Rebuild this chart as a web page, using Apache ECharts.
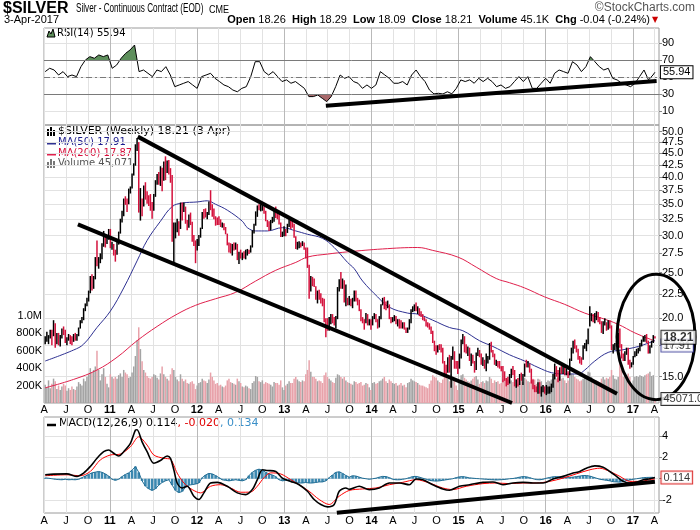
<!DOCTYPE html>
<html>
<head>
<meta charset="utf-8">
<title>$SILVER Weekly</title>
<script src="https://cdn.jsdelivr.net/npm/echarts@6.0.0/dist/echarts.min.js"></script>
<style>
html,body{margin:0;padding:0;background:#fff;}
#chart{width:700px;height:530px;}
</style>
</head>
<body>
<div id="chart"></div>
<script>
// ================= DATA =================
const firstWeek = '2010-04-05';           // first weekly bar (Monday)
const closes = [
 // 2010
 18.05,18.15,18.25,18.65,18.35,19.45,17.95,18.35,17.95,18.15,18.75,18.60,17.95,18.05,18.15,18.05,17.85,18.25,18.05,18.35,19.05,19.75,19.85,20.85,21.35,21.90,22.75,24.45,23.45,24.45,26.85,26.45,26.55,26.85,28.75,29.35,29.05,29.70,30.90,
 // 2011
 28.45,28.55,27.75,27.45,28.95,30.45,32.45,33.05,35.85,35.45,35.15,37.45,38.05,40.55,42.55,46.05,47.05,35.35,35.55,34.85,38.05,36.45,36.05,35.75,34.95,34.05,36.65,39.05,40.45,39.25,41.85,39.55,42.85,41.05,43.05,41.55,39.75,29.95,30.45,31.05,31.95,31.05,35.05,34.05,34.45,32.05,31.45,32.75,32.05,29.45,29.15,28.15,
 // 2012
 28.85,29.95,31.05,33.55,33.35,33.05,33.35,35.35,34.55,34.15,32.65,32.45,32.25,31.95,31.75,31.85,31.15,30.35,28.85,28.45,27.95,28.55,28.45,28.65,26.85,27.55,26.95,27.35,27.05,27.85,27.95,27.75,28.45,30.65,31.65,33.65,34.65,34.45,34.55,34.65,33.95,32.35,31.85,30.95,32.15,32.45,34.05,33.05,32.95,31.95,30.05,30.25,30.85,
 // 2013
 30.55,31.65,32.25,31.85,31.75,29.85,28.45,28.55,28.95,28.75,28.85,28.25,27.35,25.85,23.05,24.25,23.95,23.55,22.05,22.45,22.25,21.65,21.45,19.85,19.65,19.05,19.75,19.95,19.85,19.65,20.05,23.15,23.85,23.45,23.95,21.75,21.85,21.65,21.75,21.55,21.85,22.55,21.85,21.65,20.85,19.85,19.75,19.65,20.35,19.45,19.65,19.45,
 // 2014
 20.05,20.25,19.75,19.15,20.05,21.25,21.75,21.25,21.05,21.35,20.05,19.75,19.95,20.15,19.55,19.65,19.45,19.15,19.35,19.05,18.75,19.05,19.75,20.75,21.05,21.15,20.75,20.85,20.35,20.25,20.05,19.95,19.35,19.25,19.15,18.75,17.85,17.15,16.95,17.35,17.25,17.15,16.15,15.65,15.45,16.35,15.55,16.35,17.05,16.05,15.75,15.65,
 // 2015
 16.65,17.85,18.15,17.15,16.95,17.25,16.35,16.55,16.25,15.65,16.75,17.05,16.75,16.15,16.35,15.75,16.25,16.45,17.55,17.05,16.75,16.05,16.15,16.05,15.75,15.55,15.25,14.85,14.75,14.65,15.05,15.45,15.35,14.55,14.65,14.55,15.05,14.95,15.05,15.95,15.85,15.95,15.55,14.65,14.25,14.15,14.05,14.55,13.85,13.95,14.15,13.85,
 // 2016
 13.95,14.05,14.15,14.25,15.05,15.75,15.35,14.75,15.55,15.45,15.95,15.25,15.35,15.25,16.25,16.95,17.75,17.35,17.05,16.45,16.35,16.25,17.35,17.45,17.75,18.75,19.85,20.35,19.85,20.35,20.45,19.75,19.65,18.75,19.45,19.65,18.95,19.75,19.25,17.35,17.45,17.55,17.65,18.45,17.45,16.55,16.45,16.75,16.95,16.05,15.85,16.05,
 // 2017
 16.55,16.75,17.05,17.15,17.55,17.85,18.05,18.15,17.85,16.85,17.45,17.75,18.25,18.21
];
const highs = [
 18.3,18.7,18.4,18.9,18.9,19.8,19.5,18.6,18.6,18.4,19.0,19.2,18.9,18.2,18.5,18.4,18.3,18.5,18.6,18.5,19.1,19.8,20.1,21.0,21.5,22.1,22.9,24.6,24.8,24.6,27.0,29.3,27.0,27.5,28.9,30.7,29.8,29.9,31.0,
 31.0,29.1,28.8,28.0,29.3,30.6,32.6,33.9,36.0,36.4,36.0,37.8,38.2,40.7,42.8,47.0,48.5,47.5,37.9,36.0,38.4,39.0,37.3,36.6,36.8,35.4,36.8,39.4,40.6,41.0,42.2,41.9,43.2,44.3,43.4,43.5,41.8,40.4,32.0,32.0,32.6,32.2,35.3,35.3,35.3,34.6,32.4,33.3,33.6,32.1,30.1,29.3,
 29.5,30.1,31.2,33.7,34.2,34.3,33.7,35.5,37.5,35.0,34.3,33.0,32.8,33.0,32.5,32.0,31.9,31.3,30.3,29.0,28.9,28.8,29.0,29.0,28.8,27.7,28.0,27.6,27.8,28.0,28.1,28.0,28.6,30.8,31.8,33.8,34.8,35.0,35.0,35.4,34.6,33.9,32.4,32.2,32.4,32.9,34.2,34.6,33.6,33.5,32.0,30.6,31.4,
 31.0,31.8,32.5,32.4,32.3,31.8,29.9,29.1,29.2,29.0,29.2,29.0,28.3,28.3,26.0,24.6,24.5,24.3,23.4,22.9,23.0,22.6,22.1,22.0,20.0,20.0,20.1,20.4,20.4,20.1,20.2,23.3,24.2,25.1,24.3,24.1,23.6,22.1,22.3,22.0,22.1,22.9,22.9,22.1,21.9,20.9,20.1,19.9,20.5,20.4,19.9,19.9,
 20.2,20.5,20.4,19.9,20.2,21.4,22.1,22.2,21.7,21.8,21.4,20.1,20.1,20.3,20.2,19.9,19.9,19.8,19.6,19.6,19.1,19.1,19.9,20.9,21.2,21.4,21.6,21.2,21.0,20.7,20.4,20.1,19.9,19.6,19.5,19.2,18.8,17.9,17.5,17.5,17.6,17.6,17.3,16.2,15.9,16.5,16.7,16.6,17.4,17.0,16.2,16.2,
 16.8,18.0,18.5,18.3,17.6,17.4,17.3,16.8,16.7,16.2,16.9,17.3,17.1,16.8,16.5,16.3,16.8,16.6,17.7,17.8,17.1,16.8,16.3,16.2,16.2,15.8,15.8,15.4,14.9,15.0,15.2,15.6,15.8,15.5,14.8,14.9,15.2,15.3,15.2,16.0,16.3,16.2,16.0,15.6,14.8,14.4,14.3,14.6,14.6,14.3,14.4,14.3,
 14.4,14.3,14.3,14.5,15.2,16.0,15.8,15.5,15.7,15.8,16.0,15.9,15.6,15.4,16.4,17.3,17.9,18.0,17.5,17.2,16.6,16.5,17.5,17.7,18.0,19.0,21.2,20.5,20.4,20.5,20.7,20.6,20.1,19.7,19.7,20.0,19.6,19.8,19.8,19.3,17.6,17.7,17.9,18.6,19.0,17.6,16.8,17.0,17.3,17.3,16.3,16.1,
 16.6,17.0,17.2,17.3,17.7,18.0,18.3,18.4,18.5,17.9,17.5,17.9,18.4,18.29
];
const lows = [
 17.6,17.8,17.6,18.1,17.5,18.3,17.3,17.6,17.5,17.4,18.1,18.4,17.7,17.5,17.9,17.6,17.5,17.8,17.9,17.9,18.3,19.0,19.5,19.8,20.7,21.2,21.7,22.6,22.9,23.1,24.2,25.8,25.5,26.2,26.7,28.4,28.3,28.8,29.4,
 28.2,28.0,27.2,26.4,27.3,28.7,30.3,32.0,33.0,34.9,33.7,35.0,36.9,37.8,40.3,42.3,45.5,33.6,32.3,33.0,34.6,35.8,35.1,34.7,33.9,32.6,33.9,36.3,38.5,38.5,38.3,37.3,39.3,39.4,40.8,40.5,38.9,29.1,26.1,29.6,30.5,30.0,31.0,32.3,33.7,31.8,30.8,31.2,31.6,29.1,28.5,26.2,
 27.9,28.5,29.7,31.0,32.6,32.8,32.5,33.2,34.0,32.9,32.5,31.5,31.6,31.6,31.3,31.2,30.8,30.2,28.6,27.6,27.5,27.2,27.9,28.0,26.6,26.1,26.8,26.6,26.8,26.7,27.2,27.4,27.6,28.3,30.3,31.5,32.9,34.0,33.8,33.9,33.4,32.2,31.3,30.7,30.8,31.9,32.1,32.7,32.5,31.7,29.8,29.8,29.9,
 29.9,30.4,31.3,31.0,31.2,29.7,28.1,28.0,28.2,28.3,28.5,28.0,26.8,25.6,22.0,22.8,23.4,23.3,21.9,21.5,21.9,21.5,21.2,19.6,18.2,18.8,18.8,19.4,19.5,19.3,19.0,19.9,22.8,23.1,23.1,21.6,21.2,21.3,21.3,21.2,21.0,21.7,21.7,21.3,20.7,19.7,19.5,18.9,19.5,19.3,19.3,18.9,
 19.3,19.9,19.6,19.0,19.1,19.9,21.3,20.9,20.8,21.0,19.9,19.5,19.6,19.7,19.4,19.2,19.0,19.0,19.0,18.9,18.6,18.6,18.9,19.5,20.6,20.7,20.7,20.4,20.2,20.1,19.8,19.7,19.2,19.1,18.9,18.5,17.7,17.0,16.7,16.9,17.1,16.9,16.0,15.1,15.1,15.3,15.3,14.2,16.3,15.6,15.6,15.2,
 15.6,16.4,17.6,16.9,16.8,16.6,16.2,15.8,16.0,15.3,15.5,16.6,16.5,15.9,15.8,15.6,15.4,16.0,16.3,16.9,16.5,15.9,15.8,15.7,15.6,15.4,14.6,14.7,14.3,14.4,14.5,14.9,15.1,14.3,14.2,14.3,14.4,14.7,14.4,15.0,15.7,15.7,15.3,14.5,14.1,13.9,13.9,13.8,13.8,13.6,13.9,13.8,
 13.7,13.8,13.8,13.9,14.2,14.8,15.0,14.6,14.7,15.2,15.2,15.1,15.1,14.9,15.1,16.2,16.8,17.2,16.9,16.3,16.0,15.9,16.3,17.2,17.0,17.6,19.2,19.7,19.6,19.5,19.8,19.6,19.4,18.6,18.5,19.3,18.8,18.9,19.0,17.1,16.8,17.1,17.4,17.6,17.3,16.4,16.2,16.2,16.7,15.9,15.6,15.7,
 15.9,16.5,16.6,16.8,17.0,17.4,17.8,17.8,17.7,16.8,16.8,17.3,17.7,18.09
];
const volumesK = [
 210,180,260,170,220,280,250,160,200,150,190,220,200,140,170,150,190,160,150,190,240,220,200,280,250,300,330,400,350,380,420,600,380,260,330,400,300,220,180,
 330,300,280,300,280,320,340,300,380,350,330,290,300,350,420,540,720,870,620,480,380,350,310,290,280,300,330,320,290,270,340,420,330,300,280,260,330,400,380,300,270,250,330,280,250,270,230,220,240,250,220,160,
 200,230,240,280,260,250,230,270,350,300,260,220,230,200,210,190,180,200,260,280,240,230,220,210,280,250,230,190,180,200,190,170,160,230,250,310,300,250,240,260,220,240,230,220,210,190,240,230,230,210,260,180,150,
 200,220,250,230,230,280,300,270,250,240,260,250,330,380,490,360,300,300,280,250,260,250,230,320,350,300,280,260,240,230,290,330,320,300,280,300,260,240,230,220,210,250,240,220,230,240,200,210,230,220,180,150,
 230,240,220,230,250,260,280,300,250,230,270,250,230,220,230,200,210,230,200,210,180,230,240,280,260,250,240,230,210,200,200,190,180,170,220,260,320,300,290,260,240,230,270,350,300,280,250,330,300,280,200,150,
 260,320,330,290,270,250,240,260,280,300,310,270,220,240,250,230,260,250,300,280,230,260,240,250,220,230,270,280,290,270,250,260,240,300,270,220,250,260,240,290,270,250,240,260,280,270,220,280,270,250,200,150,
 240,260,250,270,280,320,280,290,300,280,290,260,230,260,320,340,330,300,280,270,250,260,280,300,310,360,350,300,270,260,260,250,240,280,300,270,290,280,300,380,320,280,270,300,490,380,300,310,320,340,300,200,
 260,300,310,300,320,310,300,320,330,340,360,310,320,45.071
];
// moving averages as [week index, value]
const ma50 = [[0,16.2],[17,17.1],[23,17.6],[31,19.1],[39,20.7],[47,23.2],[55,26.5],[61,29.3],[69,32.2],[76,34.6],[82,35.2],[91,35.4],[97,35.6],[102,35.0],[109,34.0],[118,32.2],[121,31.2],[126,30.7],[133,30.7],[142,31.2],[150,30.7],[157,30.2],[166,29.6],[173,28.3],[181,26.3],[185,25.5],[190,24.0],[199,22.2],[206,21.1],[217,20.5],[223,20.4],[232,19.8],[242,19.1],[250,18.8],[260,17.9],[268,17.4],[278,16.7],[287,16.2],[295,15.7],[303,15.3],[311,15.2],[319,15.2],[323,15.5],[329,16.2],[337,16.9],[345,17.1],[355,17.4],[365,17.91]];
const ma200 = [[0,14.2],[17,14.8],[31,15.5],[43,16.5],[55,17.9],[67,19.2],[79,20.4],[90,21.3],[102,22.0],[114,22.7],[126,24.0],[138,25.3],[150,26.3],[157,27.0],[169,27.4],[181,27.7],[202,28.1],[223,28.3],[232,27.9],[247,27.0],[258,25.7],[270,24.3],[278,23.8],[287,23.2],[299,22.2],[311,21.4],[323,20.5],[333,20.0],[343,19.4],[353,18.6],[365,17.87]];
// RSI(14) sampled every rsiStepWeeks weeks, last value at the last bar
const rsiStepWeeks = 2.675;
const rsiValues = [
 56.7,60.6,58.6,52.7,56.7,50.8,52.7,50.8,62.5,70.4,
 74.3,72.4,76.3,74.3,76.3,60.6,64.5,72.4,78.2,82.2,
 88.0,56.7,58.6,54.7,50.8,58.6,56.7,62.5,52.7,39.0,
 41.0,43.0,45.0,41.0,37.0,50.8,52.7,54.7,48.8,45.0,
 41.0,39.0,35.0,33.0,37.0,39.0,50.8,68.4,68.4,56.7,
 52.7,56.7,50.8,45.0,47.0,43.0,45.0,41.0,37.0,27.3,
 27.3,29.2,25.3,21.4,27.3,39.0,52.7,48.8,50.8,45.0,
 43.0,37.0,41.0,37.0,41.0,56.7,52.7,48.8,43.0,43.0,
 45.0,41.0,52.7,58.6,50.8,45.0,35.0,30.5,31.2,30.4,
 33.0,30.6,37.0,46.9,45.0,47.0,43.0,48.8,45.0,48.8,
 45.0,39.0,41.0,37.0,39.0,45.0,50.8,45.0,50.8,37.0,
 37.0,43.0,48.8,43.0,54.7,58.6,56.7,54.7,68.4,64.5,
 56.7,62.5,74.3,68.4,62.5,58.6,60.6,48.8,46.9,43.0,
 41.0,39.0,43.0,50.8,58.6,46.9,52.7
];
const rsiLast = 55.94;
// MACD(12,26,9) line and signal as [week index, value]
const macdLine = [[0,0.37],[5,0.43],[13,0.46],[19,0.22],[23,0.53],[27,1.15],[31,1.92],[35,2.54],[38,2.70],[41,2.39],[44,2.14],[47,2.54],[51,3.32],[54,4.56],[55,4.6],[58,3.47],[61,2.54],[65,1.46],[69,1.71],[73,2.14],[75,1.92],[77,0.84],[79,-0.40],[82,-0.87],[85,-0.71],[89,-1.64],[92,-1.95],[95,-1.33],[99,-0.40],[103,-0.34],[109,-0.71],[115,-1.33],[120,-1.49],[124,-1.02],[127,-0.09],[130,0.84],[133,0.78],[138,0.68],[142,0.06],[147,-0.25],[152,-0.56],[157,-1.18],[161,-1.95],[165,-2.42],[169,-2.64],[173,-2.42],[176,-1.18],[180,-0.87],[182,-1.0],[188,-0.71],[194,-1.02],[200,-0.87],[206,-0.40],[212,-0.40],[218,-0.56],[222,-0.03],[226,-0.09],[232,-0.56],[238,-0.96],[242,-1.08],[248,-0.71],[254,-0.56],[262,-0.34],[268,-0.31],[274,-0.56],[280,-0.40],[286,-0.34],[292,-0.40],[298,-0.40],[304,-0.03],[310,0.22],[316,0.53],[320,0.68],[324,0.99],[329,1.21],[334,1.08],[338,0.68],[342,0.22],[346,-0.25],[350,-0.40],[354,-0.34],[358,-0.09],[362,0.0],[365,0.114]];
const signalLine = [[0,0.28],[13,0.37],[21,0.28],[27,0.68],[33,1.77],[39,2.23],[45,2.32],[51,3.0],[56,3.94],[61,3.16],[65,2.23],[71,1.92],[75,1.82],[79,0.53],[83,-0.40],[88,-1.02],[93,-1.33],[99,-0.71],[105,-0.56],[111,-0.87],[117,-1.27],[123,-1.25],[127,-0.7],[131,0.1],[135,0.55],[141,0.45],[147,-0.09],[152,-0.56],[158,-1.18],[164,-1.95],[170,-2.42],[176,-1.64],[182,-1.1],[190,-0.96],[198,-0.87],[206,-0.56],[214,-0.34],[222,-0.09],[230,-0.40],[238,-0.87],[244,-1.02],[252,-0.71],[262,-0.46],[270,-0.40],[278,-0.46],[286,-0.40],[294,-0.40],[302,-0.25],[310,0.06],[318,0.46],[326,0.84],[332,0.99],[338,0.68],[344,0.22],[350,-0.25],[356,-0.25],[362,-0.09],[365,-0.02]];
// MACD histogram every histStepWeeks weeks
const histStepWeeks = 2;
const histValues = [
 0.08,0.05,0,-0.05,-0.08,-0.1,-0.05,-0.1,-0.08,-0.1,-0.05,
 0.1,0.25,0.4,0.55,0.62,0.68,0.6,0.45,0.25,
 -0.05,-0.15,-0.05,
 0.2,0.4,0.55,0.8,1.15,0.6,
 -0.2,-0.7,-0.95,-1.1,-0.95,-0.6,-0.35,-0.2,-0.1,
 -0.6,-1.1,-1.3,-1.2,-0.8,-0.6,-0.55,-0.5,-0.4,
 0.1,0.35,0.5,0.45,0.3,0.1,
 -0.1,-0.15,-0.2,-0.15,-0.1,-0.15,-0.2,-0.1,
 0.3,0.6,0.8,0.9,0.8,0.6,0.45,0.35,0.2,
 -0.1,-0.2,-0.15,-0.2,-0.3,-0.35,-0.4,-0.4,-0.35,-0.4,-0.4,-0.35,-0.3,-0.3,-0.2,
 0.1,0.35,0.6,0.65,0.5,0.3,0.15,
 0.28,0.25,0.15,0.05,0,-0.05,0,0.05,0.15,0.22,
 0.2,0.1,-0.05,-0.1,-0.1,-0.05,0,0.1,0.2,0.22,
 0.15,0.05,-0.05,-0.15,-0.2,-0.22,-0.2,-0.15,-0.1,-0.05,
 0,0.1,0.18,0.2,0.15,0.08,0.05,0.02,0,-0.03,
 -0.05,-0.08,-0.1,-0.12,-0.1,-0.08,-0.05,0,0.02,0.08,
 0.15,0.2,0.18,0.1,0,-0.08,-0.1,-0.05,0.05,0.12,
 0.18,0.2,0.18,0.15,0.15,0.12,0.15,0.2,0.25,0.3,
 0.3,0.25,0.15,0.05,-0.05,-0.1,-0.15,-0.2,-0.28,-0.3,
 -0.32,-0.28,-0.2,-0.12,-0.05,0,0.05,0.1,0.12,0.13,
 0.134
];
const macdLast = [0.114, -0.020, 0.134];
// axis ticks
const tickLabels = ['A','J','O','11','A','J','O','12','A','J','O','13','A','J','O','14','A','J','O','15','A','J','O','16','A','J','O','17','A'];
const priceTicks = [15,17.5,20,22.5,25,27.5,30,32.5,35,37.5,40,42.5,45,47.5,50];
const volumeTicks = [200,400,600,800,1000];
const rsiTicks = [10,30,50,70,90];
const macdTicks = [-2,0,2,4];
const macdLabelTicks = [-2,2,4];
// header text
const header = {date:'3-Apr-2017', open:'18.26', high:'18.29', low:'18.09', close:'18.21', volume:'45.1K', chg:'-0.04 (-0.24%)', barDate:'3 Apr'};
// hand-drawn annotations (data coordinates)
const priceTrendlines = [
  [['2011-04-28', 48.8], ['2016-10-26', 13.8]],
  [['2010-08-20', 31.7], ['2015-08-13', 13.18]]
];
const rsiTrendline = [['2013-06-24', 16.6], ['2017-04-10', 45.6]];
const macdTrendline = [['2013-08-09', -3.2], ['2017-04-03', -0.28]];
const ellipseBox = {from:'2016-10-26', to:'2017-09-18', top:24.8, bottom:13.4};

// ================= BUILD =================
const DAY = 86400000;
const T0 = Date.parse(firstWeek + 'T00:00:00Z');
const wt = w => T0 + w * 7 * DAY;
const dt = s => Date.parse(s + 'T00:00:00Z');
const xMin = Date.UTC(2010, 2, 31), xMax = Date.UTC(2017, 3, 20);
const quarterTs = tickLabels.map((_, k) => Date.UTC(2010, 3 + 3 * k, 1));
const yearTs = quarterTs.filter(t => new Date(t).getUTCMonth() === 0);
const N = closes.length;
const up = closes.map((c, i) => i === 0 || c >= closes[i - 1]);
// price labels split over two overlaid axes so close labels are never auto-hidden
const priceLabelsA = priceTicks.filter((_, i) => i % 2 === 0);
const priceLabelsB = priceTicks.filter((_, i) => i % 2 === 1);

const FONT = '"Liberation Sans", Arial, sans-serif';
const LEG = '"DejaVu Sans", Verdana, sans-serif';
const RED = '#d4113c', BLUE = '#2e3192', GRID = '#e2e2e2', YEAR = '#b9b9b9';

const priceBars = closes.map((c, i) => [wt(i), lows[i], highs[i], up[i] ? 1 : 0]);
const volData = volumesK.map((v, i) => ({value: [wt(i), v], itemStyle: {color: up[i] ? '#a4a4a4' : '#e8a2aa'}}));
const pairs = arr => arr.map(p => [wt(p[0]), p[1]]);
const rsiData = rsiValues.map((v, k) => [wt(k * rsiStepWeeks), v]).concat([[wt(N - 1), rsiLast]]);
const histData = histValues.map((v, k) => [wt(k * histStepWeeks), v]);
const dpair = arr => arr.map(p => [dt(p[0]), p[1]]);

function quarterLabel(v) {
  let k = 0, best = Infinity;
  quarterTs.forEach((t, j) => { const d = Math.abs(t - v); if (d < best) { best = d; k = j; } });
  const s = tickLabels[k];
  return /\d/.test(s) ? '{y|' + s + '}' : s;
}
function xAxesFor(g, showLabels, margin) {
  return [{
    type: 'value', gridIndex: g, min: xMin, max: xMax, position: 'bottom',
    axisLine: {show: false}, axisTick: {show: false, customValues: quarterTs},
    axisLabel: {show: showLabels, customValues: quarterTs, margin: margin, formatter: quarterLabel,
      showMinLabel: true, showMaxLabel: true, hideOverlap: false, interval: 0,
      color: '#000', fontSize: 11, fontFamily: FONT,
      rich: {y: {fontWeight: 'bold', fontSize: 11, fontFamily: FONT, color: '#000'}}},
    splitLine: {show: true, lineStyle: {color: GRID, width: 1}}
  }, {
    type: 'value', gridIndex: g, min: xMin, max: xMax, position: 'top',
    axisLine: {show: false}, axisTick: {show: false, customValues: yearTs},
    axisLabel: {show: false, customValues: yearTs},
    splitLine: {show: true, lineStyle: {color: YEAR, width: 1}}
  }];
}
const axisLbl = {color: '#000', fontSize: 11, fontFamily: FONT, margin: 3,
  showMinLabel: true, showMaxLabel: true, hideOverlap: false, interval: 0};
const tagLabel = (text, border, extra) => Object.assign({
  show: true, position: 'right', distance: 6, formatter: text, color: '#000',
  fontSize: 11, fontFamily: FONT, backgroundColor: '#fff', borderColor: border, borderWidth: 1,
  padding: [1, 2, 0, 2]
}, extra || {});
const tagPoint = (xi, yi, point, label, z) => ({
  type: 'scatter', xAxisIndex: xi, yAxisIndex: yi, data: [point], symbolSize: 1,
  itemStyle: {color: 'rgba(0,0,0,0)'}, label: label, z: z, silent: true, clip: false
});
const lineSeries = (xi, yi, data, color, width, z, extra) => Object.assign({
  type: 'line', xAxisIndex: xi, yAxisIndex: yi, data: data, symbol: 'none', silent: true,
  lineStyle: {color: color, width: width}, itemStyle: {color: color}, z: z
}, extra || {});

const fmtThousands = n => String(Math.round(n)).replace(/\B(?=(\d{3})+(?!\d))/g, ',');
const lastVol = volumesK[N - 1];
const PMIN = 13.18, PMAX = 51.67;

const option = {
  animation: false,
  backgroundColor: '#fff',
  grid: [
    {left: 44, right: 41, top: 28, height: 97, show: true, borderColor: '#9a9a9a', borderWidth: 1, outerBoundsMode: 'none'},
    {left: 44, right: 41, top: 125, height: 278, show: true, borderColor: '#9a9a9a', borderWidth: 1, outerBoundsMode: 'none'},
    {left: 44, right: 41, top: 417, height: 96, show: true, borderColor: '#9a9a9a', borderWidth: 1, outerBoundsMode: 'none'}
  ],
  xAxis: [].concat(xAxesFor(0, false, 0), xAxesFor(1, true, 1), xAxesFor(2, true, 2)),
  yAxis: [
    {type: 'value', gridIndex: 0, position: 'right', min: -6.1, max: 108,
     axisLine: {show: false}, axisTick: {show: true, length: 3, lineStyle: {color: '#888'}, customValues: rsiTicks},
     axisLabel: Object.assign({customValues: rsiTicks}, axisLbl),
     splitLine: {show: true, lineStyle: {color: GRID}}},
    {type: 'log', gridIndex: 1, position: 'right', min: PMIN, max: PMAX,
     axisLine: {show: false}, axisTick: {show: true, length: 3, lineStyle: {color: '#888'}, customValues: priceTicks},
     axisLabel: Object.assign({customValues: priceLabelsA, formatter: v => Number(v).toFixed(1)}, axisLbl),
     splitLine: {show: true, lineStyle: {color: GRID}}},
    {type: 'value', gridIndex: 1, position: 'left', min: 0, max: 3195,
     axisLine: {show: false}, axisTick: {show: false, customValues: volumeTicks},
     axisLabel: Object.assign({}, axisLbl, {customValues: volumeTicks, margin: 2,
       formatter: v => v >= 1000 ? (v / 1000).toFixed(1) + 'M' : v + 'K'}),
     splitLine: {show: false}},
    {type: 'value', gridIndex: 2, position: 'right', min: -3.22, max: 5.8,
     axisLine: {show: false}, axisTick: {show: true, length: 3, lineStyle: {color: '#888'}, customValues: macdTicks},
     axisLabel: Object.assign({customValues: macdLabelTicks}, axisLbl),
     splitLine: {show: true, lineStyle: {color: GRID}}},
    {type: 'log', gridIndex: 1, position: 'right', min: PMIN, max: PMAX,
     axisLine: {show: false}, axisTick: {show: false, customValues: priceLabelsB},
     axisLabel: Object.assign({customValues: priceLabelsB, formatter: v => Number(v).toFixed(1)}, axisLbl),
     splitLine: {show: false}}
  ],
  visualMap: [{
    type: 'piecewise', show: false, seriesIndex: 0, dimension: 1,
    pieces: [{gt: 70, color: '#5e8f5c'}, {gte: 30, lte: 70, color: 'rgba(255,255,255,0)'}, {lt: 30, color: '#a96a6c'}]
  }],
  series: [
    // 0 RSI fill (>70 green, <30 red)
    {type: 'line', xAxisIndex: 0, yAxisIndex: 0, data: rsiData, symbol: 'none', silent: true,
     lineStyle: {width: 0, opacity: 0}, areaStyle: {origin: 50, opacity: 1}, z: 1},
    // 1 RSI line
    lineSeries(0, 0, rsiData, '#000', 1, 3, {
      endLabel: tagLabel(() => rsiLast.toFixed(2), '#000', {distance: 6}),
      markLine: {silent: true, symbol: 'none', label: {show: false}, animation: false,
        data: [
          {yAxis: 30, lineStyle: {color: '#7a7a7a', width: 1, type: 'solid'}},
          {yAxis: 70, lineStyle: {color: '#7a7a7a', width: 1, type: 'solid'}},
          {yAxis: 50, lineStyle: {color: '#7a7a7a', width: 1, type: [6, 3, 2, 3]}}
        ]}
    }),
    // 2 RSI trendline
    lineSeries(0, 0, dpair(rsiTrendline), '#000', 4, 5),
    // 3 volume
    {type: 'bar', xAxisIndex: 2, yAxisIndex: 2, data: volData, barWidth: 1.5, silent: true, z: 1},
    // 4 MA200, 5 MA50
    lineSeries(2, 1, pairs(ma200), '#e0204c', 1, 3, {smooth: 0.4}),
    lineSeries(2, 1, pairs(ma50), BLUE, 1, 3, {smooth: 0.4}),
    // 6 price bars (high-low, coloured by close vs previous close)
    {type: 'custom', xAxisIndex: 2, yAxisIndex: 1, data: priceBars, silent: true, z: 4,
     encode: {x: 0, y: [1, 2]},
     renderItem: (params, api) => {
       const x = api.value(0);
       const p1 = api.coord([x, api.value(1)]), p2 = api.coord([x, api.value(2)]);
       return {type: 'line', shape: {x1: p1[0], y1: p1[1], x2: p2[0], y2: p2[1]},
               style: {stroke: api.value(3) ? '#000' : RED, lineWidth: 1.5}};
     }},
    // 7,8 channel trendlines
    lineSeries(2, 1, dpair(priceTrendlines[0]), '#000', 4, 5),
    lineSeries(2, 1, dpair(priceTrendlines[1]), '#000', 4, 5),
    // 9 ellipse annotation
    {type: 'custom', xAxisIndex: 2, yAxisIndex: 1, data: [[dt(ellipseBox.from), ellipseBox.top]], silent: true, z: 6, clip: false,
     renderItem: (params, api) => {
       const a = api.coord([dt(ellipseBox.from), ellipseBox.top]);
       const b = api.coord([dt(ellipseBox.to), ellipseBox.bottom]);
       return {type: 'ellipse', shape: {cx: (a[0] + b[0]) / 2, cy: (a[1] + b[1]) / 2, rx: Math.abs(b[0] - a[0]) / 2, ry: Math.abs(b[1] - a[1]) / 2},
               style: {fill: 'none', stroke: '#000', lineWidth: 3}};
     }},
    // 10-12 value tags
    tagPoint(2, 1, [wt(N - 1), ma50[ma50.length - 1][1]], tagLabel(ma50[ma50.length - 1][1].toFixed(2), BLUE, {offset: [0, 5]}), 18),
    tagPoint(2, 1, [wt(N - 1), closes[N - 1]], tagLabel(closes[N - 1].toFixed(2), '#000', {fontWeight: 'bold', fontSize: 12}), 20),
    tagPoint(2, 2, [wt(N - 1), lastVol], tagLabel((lastVol * 1000).toFixed(1), '#000'), 20),
    // 13 MACD histogram bars, 14 histogram outline
    {type: 'bar', xAxisIndex: 4, yAxisIndex: 3, data: histData, barWidth: 2.6, silent: true, itemStyle: {color: '#3b88b0'}, z: 1},
    lineSeries(4, 3, histData, '#216d94', 1, 2),
    // 15 signal, 16 MACD
    lineSeries(4, 3, pairs(signalLine), '#ff0000', 1, 3, {smooth: 0.3}),
    lineSeries(4, 3, pairs(macdLine), '#000', 1.6, 4, {smooth: 0.3}),
    // 17 MACD trendline
    lineSeries(4, 3, dpair(macdTrendline), '#000', 4, 5),
    // 18 MACD tag
    tagPoint(4, 3, [wt(N - 1), macdLast[0]], tagLabel(macdLast[0].toFixed(3), '#d40000'), 20)
  ],
  graphic: [
    {type: 'text', x: 3, y: 1, silent: true, style: {text: '$SILVER', font: 'bold 16px ' + FONT, fill: '#000', verticalAlign: 'top'}},
    {type: 'text', x: 76, y: 3, scaleX: 0.68, silent: true, style: {text: 'Silver - Continuous Contract (EOD)', font: '12px ' + FONT, fill: '#000', verticalAlign: 'top'}},
    {type: 'text', x: 209, y: 4, scaleX: 0.82, silent: true, style: {text: 'CME', font: '11px ' + FONT, fill: '#000', verticalAlign: 'top'}},
    {type: 'text', x: 695, y: 2, silent: true, style: {text: '\u00A9StockCharts.com', font: '12px ' + FONT, fill: '#555', align: 'right', verticalAlign: 'top'}},
    {type: 'text', x: 4, y: 14, silent: true, style: {text: header.date, font: '11px ' + FONT, fill: '#000', verticalAlign: 'top'}},
    {type: 'text', x: 650, y: 14, silent: true, style: {
      text: '{b|Open} ' + header.open + '  {b|High} ' + header.high + '  {b|Low} ' + header.low + '  {b|Close} ' + header.close +
            '  {b|Volume} ' + header.volume + '  {b|Chg} ' + header.chg,
      font: '11px ' + FONT, fill: '#000', align: 'right', verticalAlign: 'top',
      rich: {b: {fontWeight: 'bold', fontSize: 11, fontFamily: FONT, fill: '#000'}}}},
    {type: 'text', x: 652, y: 16, silent: true, style: {text: '\u25BC', font: '8px ' + LEG, fill: '#c00', verticalAlign: 'top'}},
    // RSI legend
    {type: 'polygon', silent: true, shape: {points: [[47, 37], [49, 31], [51, 34], [53, 29], [55, 37]]}, style: {fill: '#5e8f5c', stroke: '#000', lineWidth: 1}},
    {type: 'text', x: 57, y: 28, silent: true, style: {text: 'RSI(14) ' + rsiLast.toFixed(2), font: '10px ' + LEG, fill: '#000', verticalAlign: 'top'}},
    // main legend
    {type: 'rect', silent: true, shape: {x: 47, y: 129, width: 2, height: 7}, style: {fill: '#000'}},
    {type: 'rect', silent: true, shape: {x: 50, y: 127, width: 2, height: 9}, style: {fill: '#000'}},
    {type: 'rect', silent: true, shape: {x: 53, y: 130, width: 2, height: 6}, style: {fill: '#000'}},
    {type: 'text', x: 58, y: 126, silent: true, style: {text: '$SILVER (Weekly) ' + closes[N - 1].toFixed(2) + ' (' + header.barDate + ')', font: '11px ' + LEG, fill: '#000', verticalAlign: 'top'}},
    {type: 'line', silent: true, shape: {x1: 47, y1: 143.5, x2: 56, y2: 143.5}, style: {stroke: BLUE, lineWidth: 2}},
    {type: 'text', x: 58, y: 137, silent: true, style: {text: 'MA(50) ' + ma50[ma50.length - 1][1].toFixed(2), font: '10px ' + LEG, fill: '#1c1c8c', verticalAlign: 'top'}},
    {type: 'line', silent: true, shape: {x1: 47, y1: 154.5, x2: 56, y2: 154.5}, style: {stroke: '#e0204c', lineWidth: 2}},
    {type: 'text', x: 58, y: 148, silent: true, style: {text: 'MA(200) ' + ma200[ma200.length - 1][1].toFixed(2), font: '10px ' + LEG, fill: '#d6103c', verticalAlign: 'top'}},
    {type: 'rect', silent: true, shape: {x: 47, y: 162, width: 2, height: 6}, style: {fill: '#777'}},
    {type: 'rect', silent: true, shape: {x: 50, y: 159, width: 2, height: 9}, style: {fill: '#777'}},
    {type: 'rect', silent: true, shape: {x: 53, y: 161, width: 2, height: 7}, style: {fill: '#777'}},
    {type: 'text', x: 58, y: 158, silent: true, style: {text: 'Volume ' + fmtThousands(lastVol * 1000), font: '10px ' + LEG, fill: '#555', verticalAlign: 'top'}},
    // MACD legend
    {type: 'line', silent: true, shape: {x1: 47, y1: 425, x2: 56, y2: 425}, style: {stroke: '#000', lineWidth: 2.5}},
    {type: 'text', x: 59, y: 418, silent: true, style: {
      text: '{k|MACD(12,26,9) ' + macdLast[0].toFixed(3) + '}{r|, ' + macdLast[1].toFixed(3) + '}{c|, ' + macdLast[2].toFixed(3) + '}',
      font: '11px ' + LEG, verticalAlign: 'top',
      rich: {k: {fill: '#000', fontSize: 11, fontFamily: LEG}, r: {fill: '#e00000', fontSize: 11, fontFamily: LEG}, c: {fill: '#3a8fc8', fontSize: 11, fontFamily: LEG}}}}
  ]
};

const chart = echarts.init(document.getElementById('chart'), null, {renderer: 'canvas', width: 700, height: 530});
chart.setOption(option);
</script>
</body>
</html>
